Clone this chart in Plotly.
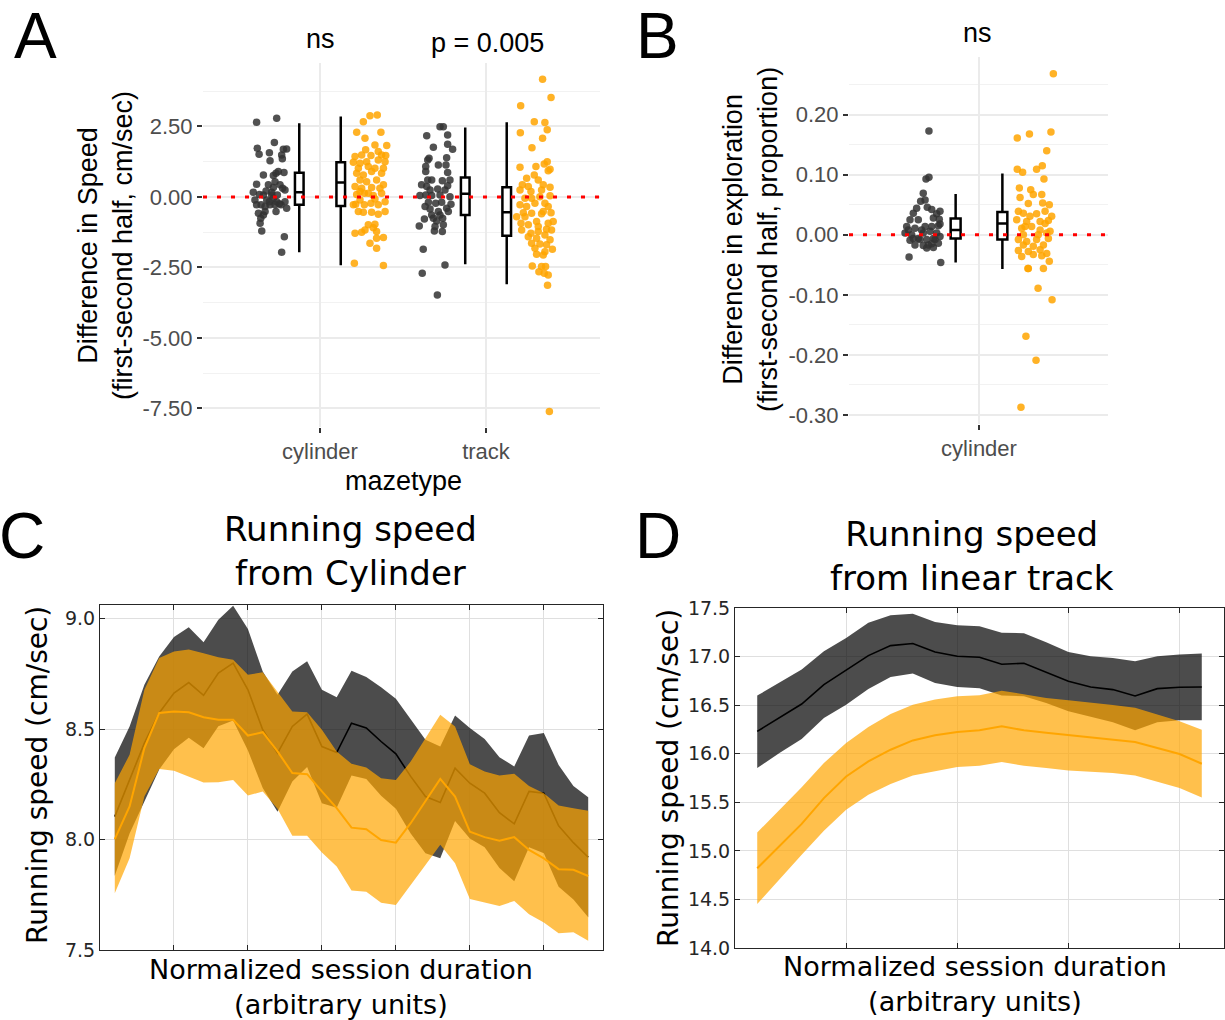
import plotly.graph_objects as go

W, H = 1225, 1020

# ---------------- Panel A data ----------------
a_categories = ["cylinder", "track"]
a_cyl_black_off = [-0.382,-0.261,-0.275,-0.378,-0.367,-0.305,-0.221,-0.201,-0.231,-0.227,-0.301,-0.341,-0.281,-0.265,-0.251,-0.217,-0.271,-0.382,-0.311,-0.225,-0.211,-0.402,-0.341,-0.291,-0.392,-0.321,-0.281,-0.261,-0.245,-0.355,-0.331,-0.301,-0.211,-0.201,-0.371,-0.341,-0.265,-0.357,-0.361,-0.351,-0.215,-0.231,-0.291,-0.305,-0.271,-0.241,-0.365,-0.325,-0.281,-0.257,-0.235,-0.382,-0.331]
a_cyl_black_val = [2.65,2.79,1.93,1.73,1.51,1.57,1.69,1.70,1.49,1.35,1.28,0.78,0.76,0.84,0.90,0.87,0.54,0.45,0.43,0.31,0.25,0.17,0.07,0.17,-0.11,-0.11,-0.05,-0.17,-0.24,-0.28,-0.34,-0.28,-0.17,-0.40,-0.58,-0.64,-0.52,-0.76,-0.93,-1.21,-1.41,-1.96,0.07,-0.17,-0.28,0.43,0.09,0.21,0.33,0.07,-0.28,-0.28,-0.52]
a_cyl_orange_off = [0.301,0.345,0.261,0.221,0.367,0.271,0.331,0.402,0.275,0.351,0.211,0.251,0.307,0.396,0.201,0.241,0.351,0.392,0.291,0.331,0.221,0.261,0.311,0.371,0.241,0.281,0.341,0.382,0.211,0.251,0.311,0.361,0.221,0.291,0.371,0.241,0.321,0.215,0.267,0.307,0.351,0.231,0.311,0.392,0.351,0.261,0.291,0.331,0.271,0.321,0.251,0.341,0.211,0.382,0.341,0.301,0.341,0.207,0.382,0.231,0.281,0.382,0.267,0.331,0.241,0.392,0.201,0.371]
a_cyl_orange_val = [2.88,2.91,2.67,2.29,2.29,2.08,1.84,1.82,1.67,1.61,1.43,1.49,1.47,1.47,1.23,1.19,1.31,1.25,1.08,1.02,0.84,0.78,0.90,0.84,0.60,0.54,0.60,0.43,0.37,0.31,0.33,0.31,0.09,0.13,0.13,-0.11,0.05,-0.26,-0.28,-0.22,-0.28,-0.52,-0.54,-0.52,-0.61,-0.54,-0.99,-0.97,-1.17,-1.09,-1.25,-1.23,-1.29,-1.44,-1.47,-1.64,-1.82,-2.35,-2.43,1.02,1.25,1.02,0.13,-0.07,0.19,-0.17,-0.28,1.49]
a_trk_black_off = [-0.277,-0.257,-0.357,-0.231,-0.317,-0.231,-0.201,-0.343,-0.351,-0.237,-0.363,-0.287,-0.241,-0.231,-0.363,-0.327,-0.263,-0.217,-0.388,-0.357,-0.291,-0.231,-0.398,-0.363,-0.327,-0.277,-0.217,-0.347,-0.303,-0.267,-0.211,-0.337,-0.287,-0.237,-0.327,-0.277,-0.371,-0.317,-0.261,-0.402,-0.307,-0.257,-0.311,-0.263,-0.378,-0.247,-0.384,-0.293,-0.337,-0.247,-0.351,-0.367,-0.227,-0.297]
a_trk_black_val = [2.49,2.49,2.17,2.20,1.76,1.87,1.69,1.37,1.31,1.39,1.08,1.13,1.13,0.87,0.90,0.60,0.57,0.60,0.43,0.37,0.28,0.40,0.05,0.07,0.05,0.07,0.01,-0.19,-0.22,-0.19,-0.26,-0.43,-0.52,-0.40,-0.64,-0.64,-0.78,-0.76,-0.76,-1.03,-1.05,-0.99,-1.21,-1.23,-1.86,-2.41,-2.71,-3.48,0.25,0.25,0.60,-0.34,-0.52,-0.85]
a_trk_orange_off = [0.341,0.392,0.209,0.291,0.355,0.207,0.369,0.341,0.277,0.205,0.301,0.351,0.369,0.375,0.386,0.245,0.291,0.315,0.219,0.255,0.345,0.205,0.271,0.335,0.386,0.235,0.275,0.325,0.386,0.205,0.295,0.355,0.225,0.275,0.345,0.392,0.211,0.255,0.305,0.375,0.215,0.271,0.315,0.365,0.395,0.255,0.305,0.355,0.275,0.325,0.386,0.295,0.355,0.400,0.305,0.345,0.279,0.335,0.359,0.319,0.351,0.375,0.371,0.335,0.245,0.375,0.185,0.235,0.315,0.405,0.365,0.382]
a_trk_orange_val = [4.17,3.53,3.23,2.67,2.64,2.28,2.38,2.08,1.74,1.05,1.08,1.17,1.25,0.93,0.98,0.66,0.78,0.60,0.43,0.37,0.43,0.25,0.19,0.25,0.34,-0.05,-0.05,0.01,0.04,-0.28,-0.22,-0.22,-0.56,-0.58,-0.52,-0.56,-0.93,-0.99,-0.87,-0.93,-1.17,-1.29,-1.23,-1.15,-1.17,-1.41,-1.47,-1.35,-1.64,-1.67,-1.52,-1.82,-1.94,-1.86,-2.03,-2.06,-2.45,-2.47,-2.47,-2.65,-2.71,-2.77,-3.13,-0.60,-0.34,-0.34,-0.70,-0.70,-1.05,-0.87,-1.70,-7.61]
# box stats: [cyl black, cyl orange, track black, track orange]
a_box_cat = [1, 1, 2, 2]
a_box_off = [-0.125, 0.125, -0.125, 0.125]
a_box_q1 = [-0.28, -0.32, -0.64, -1.38]
a_box_med = [0.17, 0.51, 0.11, -0.54]
a_box_q3 = [0.86, 1.23, 0.69, 0.34]
a_box_lo = [-1.96, -2.42, -2.39, -3.10]
a_box_hi = [2.61, 2.85, 2.46, 2.65]
a_yticks = [-7.5, -5.0, -2.5, 0.0, 2.5]
a_yticklabels = ["-7.50", "-5.00", "-2.50", "0.00", "2.50"]
a_yminor = [-6.25, -3.75, -1.25, 1.25, 3.75]
a_pvals = ["ns", "p = 0.005"]

# ---------------- Panel B data ----------------
b_black_off = [-0.272,-0.288,-0.272,-0.303,-0.317,-0.293,-0.281,-0.257,-0.357,-0.212,-0.375,-0.330,-0.248,-0.216,-0.393,-0.348,-0.293,-0.257,-0.221,-0.212,-0.402,-0.366,-0.303,-0.266,-0.230,-0.375,-0.330,-0.284,-0.248,-0.212,-0.348,-0.303,-0.257,-0.221,-0.284,-0.248,-0.380,-0.208,-0.339,-0.312,-0.384,-0.239,-0.275,-0.321,-0.357,-0.230]
b_black_val = [0.173,0.093,0.096,0.069,0.056,0.058,0.046,0.042,0.036,0.039,0.025,0.025,0.028,0.026,0.014,0.011,0.014,0.014,0.015,0.018,0.003,0.000,0.003,0.006,0.003,-0.009,-0.006,-0.008,-0.006,-0.003,-0.017,-0.018,-0.015,-0.014,-0.022,-0.021,-0.037,-0.046,0.044,0.008,0.008,-0.008,-0.017,-0.008,-0.006,0.035]
b_orange_off = [0.404,0.208,0.274,0.391,0.368,0.208,0.237,0.313,0.344,0.353,0.219,0.281,0.295,0.341,0.223,0.268,0.346,0.382,0.214,0.241,0.313,0.359,0.395,0.205,0.259,0.332,0.377,0.232,0.286,0.332,0.386,0.241,0.322,0.368,0.214,0.259,0.313,0.377,0.241,0.295,0.350,0.214,0.268,0.332,0.368,0.232,0.295,0.341,0.382,0.268,0.350,0.277,0.250,0.359,0.266,0.321,0.397,0.255,0.310,0.228]
b_orange_val = [0.268,0.161,0.168,0.171,0.140,0.109,0.104,0.109,0.115,0.093,0.078,0.075,0.067,0.067,0.062,0.052,0.053,0.050,0.039,0.036,0.035,0.039,0.031,0.025,0.022,0.022,0.024,0.011,0.014,0.008,0.006,0.000,0.000,0.003,-0.008,-0.011,-0.008,-0.006,-0.017,-0.019,-0.017,-0.026,-0.028,-0.025,-0.031,-0.036,-0.033,-0.035,-0.044,-0.056,-0.056,0.031,0.014,0.019,-0.056,-0.089,-0.108,-0.169,-0.209,-0.287]
b_box_off = [-0.127, 0.127]
b_box_q1 = [-0.006, -0.008]
b_box_med = [0.008, 0.019]
b_box_q3 = [0.027, 0.038]
b_box_lo = [-0.046, -0.057]
b_box_hi = [0.068, 0.102]
b_yticks = [-0.3, -0.2, -0.1, 0.0, 0.1, 0.2]
b_yticklabels = ["-0.30", "-0.20", "-0.10", "0.00", "0.10", "0.20"]
b_yminor = [-0.25, -0.15, -0.05, 0.05, 0.15, 0.25]

# ---------------- Panel C data ----------------
c_bins = list(range(1, 34))
c_black_mean = [8.104,8.270,8.437,8.573,8.663,8.711,8.653,8.754,8.799,8.678,8.497,8.391,8.512,8.568,8.421,8.394,8.527,8.505,8.444,8.388,8.286,8.195,8.168,8.323,8.255,8.210,8.122,8.071,8.218,8.210,8.062,7.986,7.920]
c_black_hi = [8.372,8.512,8.701,8.829,8.917,8.961,8.893,8.995,9.059,8.953,8.761,8.656,8.761,8.807,8.678,8.644,8.764,8.736,8.690,8.637,8.545,8.452,8.421,8.562,8.505,8.455,8.373,8.331,8.471,8.482,8.338,8.243,8.192]
c_black_lo = [7.836,8.028,8.173,8.317,8.409,8.461,8.413,8.513,8.539,8.403,8.233,8.126,8.263,8.329,8.164,8.144,8.290,8.274,8.198,8.139,8.027,7.938,7.915,8.084,8.005,7.965,7.871,7.811,7.965,7.938,7.786,7.729,7.648]
c_orange_mean = [8.002,8.150,8.414,8.573,8.580,8.576,8.554,8.542,8.542,8.471,8.486,8.399,8.301,8.296,8.218,8.142,8.054,8.047,7.998,7.986,8.074,8.172,8.275,8.195,8.036,8.011,7.995,8.011,7.953,7.915,7.866,7.863,7.835]
c_orange_hi = [8.255,8.384,8.678,8.822,8.852,8.860,8.844,8.826,8.814,8.746,8.757,8.666,8.580,8.576,8.497,8.399,8.343,8.326,8.278,8.270,8.353,8.459,8.565,8.512,8.341,8.308,8.290,8.298,8.243,8.210,8.154,8.142,8.130]
c_orange_lo = [7.757,7.915,8.195,8.319,8.311,8.286,8.258,8.260,8.270,8.199,8.218,8.140,8.017,8.017,7.941,7.878,7.769,7.764,7.714,7.704,7.795,7.885,7.976,7.893,7.731,7.714,7.699,7.722,7.662,7.624,7.576,7.580,7.542]
c_xticks = [5, 10, 15, 20, 25, 30]
c_yticks = [7.5, 8.0, 8.5, 9.0]

# ---------------- Panel D data ----------------
d_bins = list(range(1, 22))
d_black_mean = [16.230,16.368,16.512,16.711,16.856,17.010,17.113,17.134,17.048,17.003,16.993,16.921,16.931,16.842,16.746,16.687,16.660,16.595,16.670,16.684,16.687]
d_black_hi = [16.598,16.735,16.866,17.055,17.192,17.347,17.426,17.440,17.357,17.323,17.313,17.244,17.241,17.148,17.048,17.003,16.986,16.952,17.003,17.021,17.031]
d_black_lo = [15.852,16.007,16.151,16.368,16.505,16.667,16.790,16.825,16.729,16.687,16.674,16.598,16.591,16.522,16.436,16.378,16.323,16.241,16.323,16.344,16.344]
d_orange_mean = [14.821,15.045,15.278,15.543,15.766,15.921,16.041,16.137,16.189,16.223,16.241,16.282,16.241,16.216,16.192,16.175,16.151,16.120,16.058,15.997,15.897]
d_orange_hi = [15.189,15.423,15.656,15.904,16.110,16.275,16.409,16.505,16.557,16.591,16.601,16.649,16.608,16.574,16.550,16.529,16.502,16.474,16.402,16.333,16.247]
d_orange_lo = [14.454,14.701,14.959,15.206,15.423,15.577,15.687,15.777,15.818,15.863,15.876,15.914,15.876,15.852,15.828,15.814,15.801,15.777,15.715,15.646,15.550]
d_xticks = [5, 10, 15, 20]
d_yticks = [14.0, 14.5, 15.0, 15.5, 16.0, 16.5, 17.0, 17.5]

# ---------------- styling ----------------
BLACK_PT = "rgba(51,51,51,0.85)"
ORANGE_PT = "rgba(255,165,0,0.85)"
GG = "Liberation Sans"
ML = "DejaVu Sans"

def px(x):
    return x / W

def py(y):
    return 1 - y / H

fig = go.Figure()

# ---- Panel A ----
def jitter(cats_off, base):
    return [base + o for o in cats_off]

fig.add_trace(go.Scatter(x=jitter(a_cyl_black_off, 1), y=a_cyl_black_val, mode="markers",
                         marker=dict(size=7.5, color=BLACK_PT), xaxis="x", yaxis="y", showlegend=False))
fig.add_trace(go.Scatter(x=jitter(a_cyl_orange_off, 1), y=a_cyl_orange_val, mode="markers",
                         marker=dict(size=7.5, color=ORANGE_PT), xaxis="x", yaxis="y", showlegend=False))
fig.add_trace(go.Scatter(x=jitter(a_trk_black_off, 2), y=a_trk_black_val, mode="markers",
                         marker=dict(size=7.5, color=BLACK_PT), xaxis="x", yaxis="y", showlegend=False))
fig.add_trace(go.Scatter(x=jitter(a_trk_orange_off, 2), y=a_trk_orange_val, mode="markers",
                         marker=dict(size=7.5, color=ORANGE_PT), xaxis="x", yaxis="y", showlegend=False))
for i in range(len(a_box_cat)):
    fig.add_trace(go.Box(x=[a_box_cat[i] + a_box_off[i]], q1=[a_box_q1[i]], median=[a_box_med[i]],
                         q3=[a_box_q3[i]], lowerfence=[a_box_lo[i]], upperfence=[a_box_hi[i]],
                         width=0.052, whiskerwidth=0, fillcolor="white",
                         line=dict(color="black", width=2.5), boxpoints=False,
                         xaxis="x", yaxis="y", showlegend=False))

# ---- Panel B ----
fig.add_trace(go.Scatter(x=jitter(b_black_off, 1), y=b_black_val, mode="markers",
                         marker=dict(size=7.5, color=BLACK_PT), xaxis="x2", yaxis="y2", showlegend=False))
fig.add_trace(go.Scatter(x=jitter(b_orange_off, 1), y=b_orange_val, mode="markers",
                         marker=dict(size=7.5, color=ORANGE_PT), xaxis="x2", yaxis="y2", showlegend=False))
for i in range(len(b_box_off)):
    fig.add_trace(go.Box(x=[1 + b_box_off[i]], q1=[b_box_q1[i]], median=[b_box_med[i]],
                         q3=[b_box_q3[i]], lowerfence=[b_box_lo[i]], upperfence=[b_box_hi[i]],
                         width=0.054, whiskerwidth=0, fillcolor="white",
                         line=dict(color="black", width=2.5), boxpoints=False,
                         xaxis="x2", yaxis="y2", showlegend=False))

# ---- Panels C and D (bands + means) ----
def band_panel(bins, hi_b, lo_b, mean_b, hi_o, lo_o, mean_o, xa, ya):
    fig.add_trace(go.Scatter(x=bins + bins[::-1], y=hi_b + lo_b[::-1], fill="toself",
                             fillcolor="rgba(0,0,0,0.7)", line=dict(width=0), mode="lines",
                             xaxis=xa, yaxis=ya, showlegend=False, hoverinfo="skip"))
    fig.add_trace(go.Scatter(x=bins, y=mean_b, mode="lines", line=dict(color="black", width=1.6),
                             xaxis=xa, yaxis=ya, showlegend=False))
    fig.add_trace(go.Scatter(x=bins + bins[::-1], y=hi_o + lo_o[::-1], fill="toself",
                             fillcolor="rgba(255,165,0,0.7)", line=dict(width=0), mode="lines",
                             xaxis=xa, yaxis=ya, showlegend=False, hoverinfo="skip"))
    fig.add_trace(go.Scatter(x=bins, y=mean_o, mode="lines", line=dict(color="#FFA500", width=2),
                             xaxis=xa, yaxis=ya, showlegend=False))

band_panel(c_bins, c_black_hi, c_black_lo, c_black_mean, c_orange_hi, c_orange_lo, c_orange_mean, "x3", "y3")
band_panel(d_bins, d_black_hi, d_black_lo, d_black_mean, d_orange_hi, d_orange_lo, d_orange_mean, "x4", "y4")

# ---- axes ----
gg_tick = dict(family=GG, size=22, color="#4D4D4D")
ml_tick = dict(family=ML, size=19, color="#262626")

fig.update_layout(
    width=W, height=H, margin=dict(l=0, r=0, t=0, b=0, autoexpand=False),
    paper_bgcolor="white", plot_bgcolor="white", showlegend=False,
    xaxis=dict(domain=[px(203), px(600)], range=[0.295, 2.687], tickvals=[1, 2], ticktext=a_categories,
               showgrid=True, gridcolor="#EBEBEB", gridwidth=2, zeroline=False, showline=False,
               ticks="outside", ticklen=5, tickwidth=2, tickcolor="#333333", tickfont=gg_tick, anchor="y",
               automargin=False),
    yaxis=dict(domain=[py(427), py(63)], range=[-8.16, 4.75], tickvals=a_yticks, ticktext=a_yticklabels,
               showgrid=True, gridcolor="#EBEBEB", gridwidth=2, zeroline=False, showline=False,
               ticks="outside", ticklen=5, tickwidth=2, tickcolor="#333333", tickfont=gg_tick, anchor="x",
               automargin=False,
               minor=dict(tickvals=a_yminor, showgrid=True, gridcolor="#F2F2F2", gridwidth=1, ticks="")),
    xaxis2=dict(domain=[px(849), px(1108)], range=[0.2935, 1.701], tickvals=[1], ticktext=["cylinder"],
                showgrid=True, gridcolor="#EBEBEB", gridwidth=2, zeroline=False, showline=False,
                ticks="outside", ticklen=5, tickwidth=2, tickcolor="#333333", tickfont=gg_tick, anchor="y2",
                automargin=False),
    yaxis2=dict(domain=[py(424), py(57)], range=[-0.315, 0.296], tickvals=b_yticks, ticktext=b_yticklabels,
                showgrid=True, gridcolor="#EBEBEB", gridwidth=2, zeroline=False, showline=False,
                ticks="outside", ticklen=5, tickwidth=2, tickcolor="#333333", tickfont=gg_tick, anchor="x2",
                automargin=False,
                minor=dict(tickvals=b_yminor, showgrid=True, gridcolor="#F2F2F2", gridwidth=1, ticks="")),
    xaxis3=dict(domain=[px(100), px(603)], range=[0, 34], tickvals=c_xticks, showticklabels=False,
                showgrid=True, gridcolor="#DFDFDF", gridwidth=1, zeroline=False,
                showline=True, linecolor="#262626", linewidth=1, mirror="ticks",
                ticks="inside", ticklen=5, tickcolor="#262626", anchor="y3", automargin=False),
    yaxis3=dict(domain=[py(950), py(605)], range=[7.5, 9.062], tickvals=c_yticks, tickformat=".1f",
                showgrid=True, gridcolor="#DFDFDF", gridwidth=1, zeroline=False,
                showline=True, linecolor="#262626", linewidth=1, mirror="ticks",
                ticks="inside", ticklen=5, tickcolor="#262626", tickfont=ml_tick, anchor="x3", automargin=False),
    xaxis4=dict(domain=[px(735), px(1224)], range=[0, 22], tickvals=d_xticks, showticklabels=False,
                showgrid=True, gridcolor="#DFDFDF", gridwidth=1, zeroline=False,
                showline=True, linecolor="#262626", linewidth=1, mirror="ticks",
                ticks="inside", ticklen=5, tickcolor="#262626", anchor="y4", automargin=False),
    yaxis4=dict(domain=[py(948), py(608)], range=[14.0, 17.5], tickvals=d_yticks, tickformat=".1f",
                showgrid=True, gridcolor="#DFDFDF", gridwidth=1, zeroline=False,
                showline=True, linecolor="#262626", linewidth=1, mirror="ticks",
                ticks="inside", ticklen=5, tickcolor="#262626", tickfont=ml_tick, anchor="x4", automargin=False),
)

# red dotted zero lines
for xr, yr in [("x", "y"), ("x2", "y2")]:
    fig.add_shape(type="line", xref=f"{xr} domain", yref=yr, x0=0, x1=1, y0=0, y1=0,
                  line=dict(color="red", width=3, dash="4px,10px"), layer="above")

# ---- text ----
def ann(text, x, y, size, family, color="black", angle=0, xanchor="center", yanchor="middle"):
    fig.add_annotation(text=text, x=px(x), y=py(y), xref="paper", yref="paper", showarrow=False,
                       font=dict(family=family, size=size, color=color), textangle=angle,
                       xanchor=xanchor, yanchor=yanchor)

ann("A", 35, 36, 64, GG)
ann("B", 657, 36, 64, GG)
ann("C", 22, 536, 64, GG)
ann("D", 658, 536, 64, GG)

ann(a_pvals[0], 320, 39, 27, GG)
ann(a_pvals[1], 487, 43, 27, GG)
ann("ns", 977, 33, 27, GG)

ann("Difference in Speed<br>(first-second half, cm/sec)", 105, 246, 27, GG, angle=-90)
ann("mazetype", 403, 481, 27, GG)
ann("Difference in exploration<br>(first-second half, proportion)", 750, 240, 27, GG, angle=-90)

ann("Running speed<br>from Cylinder", 350, 551, 34, ML)
ann("Running speed<br>from linear track", 972, 556, 34, ML)
ann("Normalized session duration<br>(arbitrary units)", 341, 987, 27, ML)
ann("Normalized session duration<br>(arbitrary units)", 975, 984, 27, ML)
ann("Running speed (cm/sec)", 37, 775, 28, ML, angle=-90)
ann("Running speed (cm/sec)", 668, 778, 28, ML, angle=-90)

fig.write_html("out.html")
